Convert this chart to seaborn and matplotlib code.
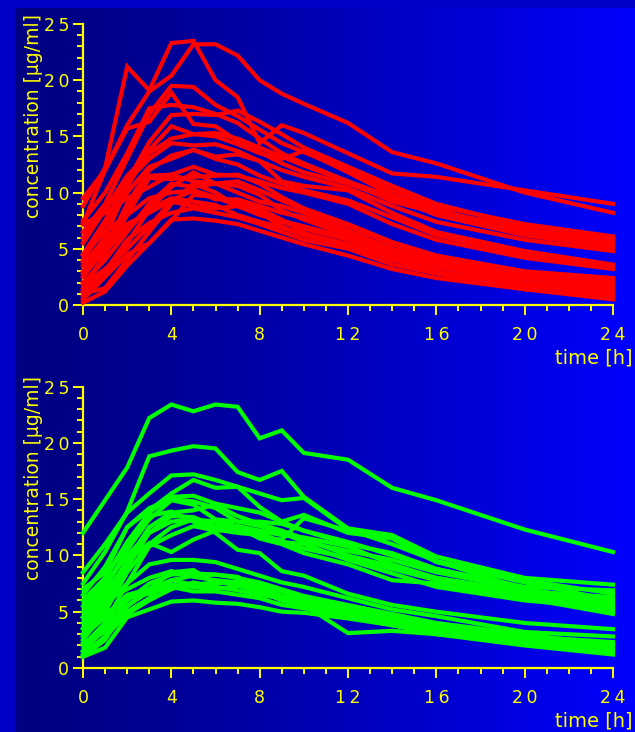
import numpy as np
import pandas as pd
import matplotlib
matplotlib.use("Agg")
import matplotlib.pyplot as plt
from matplotlib.ticker import MultipleLocator, FixedLocator, FixedFormatter
import seaborn as sns

# ---------------- data ----------------
time_h = [0, 1, 2, 3, 4, 5, 6, 7, 8, 9, 10, 12, 14, 16, 20, 24]

red_curves = [
    [9.5, 12.0, 16.0, 19.0, 20.4, 23.2, 23.2, 22.2, 20.0, 18.8, 17.9, 16.2, 13.6, 12.6, 10.0, 8.2],
    [8.8, 12.2, 21.2, 19.1, 23.3, 23.5, 20.0, 18.5, 14.4, 16.0, 15.3, 13.5, 11.7, 11.4, 10.2, 9.0],
    [6.5, 9.0, 13.0, 17.0, 19.5, 19.4, 17.8, 16.8, 15.6, 14.4, 13.6, 12.0, 10.2, 8.8, 7.2, 6.1],
    [7.2, 12.0, 15.7, 16.3, 18.9, 16.1, 15.9, 14.6, 13.6, 12.6, 11.8, 10.8, 9.4, 8.3, 6.9, 5.9],
    [4.5, 7.5, 11.0, 14.5, 16.9, 17.0, 16.9, 17.3, 16.3, 15.2, 14.0, 12.3, 10.6, 9.0, 7.0, 5.7],
    [7.5, 10.0, 13.5, 17.5, 17.8, 17.6, 17.0, 16.2, 14.8, 13.5, 12.6, 11.0, 9.2, 8.2, 6.6, 5.5],
    [3.5, 6.0, 10.5, 13.8, 15.9, 15.2, 15.0, 14.3, 13.5, 13.0, 13.7, 11.8, 9.8, 8.5, 6.4, 5.3],
    [5.5, 8.5, 11.5, 13.5, 14.8, 15.2, 15.3, 14.8, 14.0, 13.2, 12.4, 11.0, 9.6, 8.0, 6.2, 5.1],
    [2.5, 5.0, 9.0, 12.0, 13.3, 13.8, 13.2, 13.4, 12.8, 12.0, 11.4, 10.4, 8.8, 7.4, 5.8, 4.8],
    [6.0, 8.5, 11.0, 13.0, 14.4, 14.2, 14.3, 13.7, 12.8, 11.0, 10.6, 10.2, 8.2, 6.5, 4.8, 3.6],
    [4.0, 7.0, 10.0, 12.3, 13.0, 13.8, 13.0, 12.5, 11.5, 10.8, 10.2, 9.3, 7.8, 6.2, 4.5, 3.4],
    [3.0, 5.5, 8.5, 11.5, 11.6, 12.3, 11.6, 11.5, 11.0, 10.4, 10.0, 9.0, 7.2, 5.8, 4.2, 3.2],
    [1.5, 4.5, 8.0, 11.3, 11.2, 11.4, 11.5, 11.6, 10.8, 9.6, 8.6, 7.2, 5.6, 4.4, 3.0, 2.4],
    [7.2, 8.2, 9.5, 10.5, 11.6, 11.0, 10.8, 11.0, 10.2, 9.3, 8.5, 7.0, 5.4, 4.2, 2.8, 2.1],
    [0.5, 2.5, 5.5, 8.5, 10.5, 11.8, 10.8, 10.0, 9.2, 8.8, 8.2, 6.6, 5.0, 3.9, 2.6, 1.9],
    [2.0, 4.0, 6.5, 9.0, 10.8, 10.5, 10.8, 10.6, 9.8, 8.4, 7.6, 6.2, 4.8, 3.6, 2.4, 1.7],
    [3.8, 5.5, 7.2, 8.2, 9.3, 10.2, 9.4, 9.4, 8.8, 8.2, 7.8, 6.4, 5.0, 3.8, 2.4, 1.5],
    [1.0, 1.5, 4.0, 6.5, 9.0, 10.8, 10.0, 8.8, 8.2, 7.4, 6.8, 5.8, 4.6, 3.4, 2.0, 1.2],
    [0.2, 1.2, 3.5, 5.5, 7.5, 9.8, 9.6, 9.2, 8.5, 7.6, 6.4, 5.4, 4.2, 3.0, 1.8, 1.0],
    [1.8, 3.2, 5.0, 7.0, 9.2, 8.8, 8.6, 8.8, 8.2, 7.0, 6.2, 5.2, 4.0, 3.0, 1.6, 0.8],
    [0.8, 2.5, 4.5, 5.5, 7.6, 7.7, 7.5, 7.2, 6.6, 6.0, 5.4, 4.4, 3.2, 2.4, 1.4, 0.5],
    [2.8, 4.8, 6.8, 8.5, 9.5, 9.2, 8.9, 8.0, 7.4, 6.9, 6.2, 5.4, 4.4, 3.4, 2.4, 2.0],
    [4.5, 6.5, 8.0, 9.5, 10.0, 10.2, 9.6, 8.8, 8.0, 7.5, 7.0, 6.0, 4.8, 3.6, 2.0, 1.3],
    [1.2, 3.0, 5.8, 7.3, 8.2, 8.6, 8.2, 7.8, 7.2, 6.5, 5.8, 5.0, 3.6, 2.8, 1.4, 0.7],
]

green_curves = [
    [12.0, 14.9, 17.8, 22.2, 23.4, 22.8, 23.4, 23.2, 20.4, 21.1, 19.1, 18.5, 16.0, 14.9, 12.3, 10.3],
    [7.5, 10.3, 13.9, 18.8, 19.3, 19.7, 19.5, 17.4, 16.7, 17.5, 15.2, 12.4, 11.8, 9.9, 8.0, 7.4],
    [8.5, 11.0, 13.8, 15.5, 17.1, 17.2, 16.7, 16.1, 14.3, 13.0, 12.2, 11.0, 10.2, 8.8, 7.2, 6.9],
    [6.5, 9.0, 12.5, 14.0, 15.5, 16.7, 16.0, 16.1, 15.5, 14.9, 15.1, 12.3, 11.0, 9.5, 7.8, 6.6],
    [5.5, 8.0, 11.2, 13.8, 15.2, 15.3, 14.6, 14.2, 13.8, 13.0, 13.6, 12.0, 11.5, 9.4, 7.6, 6.0],
    [4.5, 7.0, 10.5, 13.2, 14.9, 14.5, 13.2, 13.0, 13.0, 12.8, 12.2, 11.2, 10.0, 8.8, 7.0, 5.6],
    [6.0, 8.0, 11.0, 13.5, 13.9, 13.0, 12.0, 10.5, 10.2, 8.6, 8.2, 6.6, 5.6, 5.0, 4.0, 3.45],
    [3.0, 5.5, 9.0, 12.0, 13.5, 13.4, 12.6, 12.6, 12.2, 11.8, 11.6, 10.8, 9.2, 8.0, 6.6, 5.4],
    [2.5, 5.0, 8.5, 11.0, 12.5, 13.2, 13.0, 12.6, 11.6, 11.4, 13.3, 12.2, 11.8, 9.5, 7.0, 5.0],
    [4.0, 6.5, 9.5, 12.5, 13.8, 14.0, 14.5, 13.5, 12.8, 12.2, 11.5, 10.0, 9.0, 8.0, 6.8, 6.3],
    [1.5, 4.0, 7.5, 10.8, 11.8, 12.6, 12.2, 12.3, 12.0, 11.2, 10.6, 9.8, 8.8, 7.8, 6.4, 5.2],
    [3.5, 6.0, 9.5, 11.1, 10.3, 11.4, 12.2, 12.5, 11.5, 11.0, 10.2, 9.2, 7.8, 7.5, 6.2, 4.8],
    [3.5, 5.5, 7.5, 9.2, 9.6, 9.6, 9.4, 8.8, 8.2, 7.6, 7.2, 6.2, 5.2, 4.6, 3.2, 2.8],
    [1.0, 2.5, 5.5, 7.0, 8.5, 8.7, 7.5, 7.7, 7.4, 6.8, 6.0, 5.2, 4.4, 3.8, 2.8, 2.3],
    [2.0, 4.0, 6.0, 7.5, 8.3, 8.4, 8.3, 8.0, 7.6, 7.0, 6.4, 5.6, 4.8, 4.0, 3.0, 2.0],
    [2.8, 4.5, 6.5, 7.0, 7.8, 8.2, 8.3, 8.1, 7.0, 6.0, 5.6, 3.1, 3.3, 3.0, 2.3, 1.8],
    [1.5, 3.5, 5.5, 6.8, 7.4, 7.2, 7.0, 7.3, 6.8, 6.0, 5.5, 4.8, 4.0, 3.2, 2.2, 1.5],
    [1.0, 1.8, 4.5, 5.2, 5.9, 6.0, 5.8, 5.7, 5.4, 5.0, 4.9, 4.4, 3.8, 3.0, 2.0, 1.2],
    [3.0, 4.8, 6.2, 6.6, 7.2, 6.8, 6.8, 6.5, 6.2, 5.6, 5.3, 4.6, 3.8, 3.2, 2.2, 1.6],
    [2.2, 3.2, 5.0, 6.2, 7.8, 7.4, 7.6, 7.5, 7.0, 6.4, 5.8, 5.0, 4.2, 3.4, 2.4, 1.9],
    [1.2, 2.8, 4.8, 6.0, 7.0, 7.6, 7.2, 6.9, 6.5, 6.2, 5.8, 5.2, 4.4, 3.6, 2.6, 2.2],
    [4.5, 6.0, 7.0, 8.0, 8.6, 8.1, 7.8, 7.6, 7.2, 6.8, 6.2, 5.4, 4.6, 3.8, 2.6, 2.0],
    [7.0, 8.5, 12.5, 14.2, 15.0, 14.8, 14.2, 13.0, 12.6, 12.0, 11.2, 10.4, 9.6, 8.5, 7.0, 5.9],
    [5.0, 7.5, 10.0, 12.0, 13.0, 13.2, 12.3, 12.0, 11.8, 11.2, 11.0, 9.6, 8.4, 7.2, 6.0, 5.3],
]

TS = "\u2009"
x_tick_values = [0, 4, 8, 12, 16, 20, 24]
x_tick_labels = ["0", "4", "8", "1" + TS + "2", "1" + TS + "6", "2" + TS + "0", "2" + TS + "4"]
y_tick_values = [0, 5, 10, 15, 20, 25]
y_tick_labels = ["0", "5", "1" + TS + "0", "1" + TS + "5", "2" + TS + "0", "2" + TS + "5"]
y_label = "concentration [µg/ml]"
x_label = "time [h]"


def long_form(curves):
    rows = []
    for i, c in enumerate(curves):
        for t, v in zip(time_h, c):
            rows.append({"subject": i, "time": t, "conc": v})
    return pd.DataFrame(rows)


# ---------------- figure ----------------
W, H = 635, 732
fig = plt.figure(figsize=(W / 100, H / 100), dpi=100)
fig.patch.set_facecolor("#0000C8")

# gradient backdrop
bg = fig.add_axes([15 / W, 0, (W - 15) / W, (H - 8) / H], zorder=-5)
g = np.linspace(0, 1, 512) ** 1.25
rgb = np.zeros((2, 512, 3))
rgb[..., 2] = (0x80 + (0xFF - 0x80) * g) / 255.0
bg.imshow(rgb, aspect="auto", extent=[0, 1, 0, 1], interpolation="bilinear")
bg.set_axis_off()

YEL = "#FFFF00"


def style_axes(ax):
    ax.set_facecolor("none")
    ax.set_xlim(0, 24)
    ax.set_ylim(0, 25)
    for s in ["top", "right"]:
        ax.spines[s].set_visible(False)
    for s in ["left", "bottom"]:
        ax.spines[s].set_color(YEL)
        ax.spines[s].set_linewidth(1.6)
        ax.spines[s].set_zorder(1)
    ax.xaxis.set_major_locator(FixedLocator(x_tick_values))
    ax.xaxis.set_major_formatter(FixedFormatter(x_tick_labels))
    ax.yaxis.set_major_locator(FixedLocator(y_tick_values))
    ax.yaxis.set_major_formatter(FixedFormatter(y_tick_labels))
    ax.xaxis.set_minor_locator(MultipleLocator(1))
    ax.yaxis.set_minor_locator(MultipleLocator(1))
    ax.tick_params(which="both", direction="out", color=YEL, width=1.4,
                   labelcolor=YEL, labelsize=12.5)
    ax.tick_params(which="major", length=7)
    ax.tick_params(which="minor", length=4)
    ax.tick_params(axis="x", which="major", pad=8)
    ax.tick_params(axis="y", which="major", pad=3)
    ax.set_xlabel("")
    ax.set_ylabel("")


panels = [
    (red_curves, "#FF0000", 305, 24),
    (green_curves, "#00FF00", 668, 386.5),
]
for curves, col, ybot, ytop in panels:
    ax = fig.add_axes([83 / W, 1 - ybot / H, (613 - 83) / W, (ybot - ytop) / H])
    df = long_form(curves)
    sns.lineplot(data=df, x="time", y="conc", units="subject", estimator=None,
                 color=col, linewidth=3.0, legend=False, ax=ax)
    for ln in ax.get_lines():
        ln.set_clip_on(False)
        ln.set_zorder(3)
        ln.set_solid_joinstyle("miter")
    style_axes(ax)
    # labels
    fig.text(34 / W, 1 - (ytop - 10) / H, y_label, rotation=90, ha="center",
             va="top", color=YEL, fontsize=13.5)
    fig.text(555 / W, 1 - (ybot + 53) / H, x_label, ha="left", va="center",
             color=YEL, fontsize=14)

fig.savefig("out.png", dpi=100, facecolor=fig.get_facecolor())
